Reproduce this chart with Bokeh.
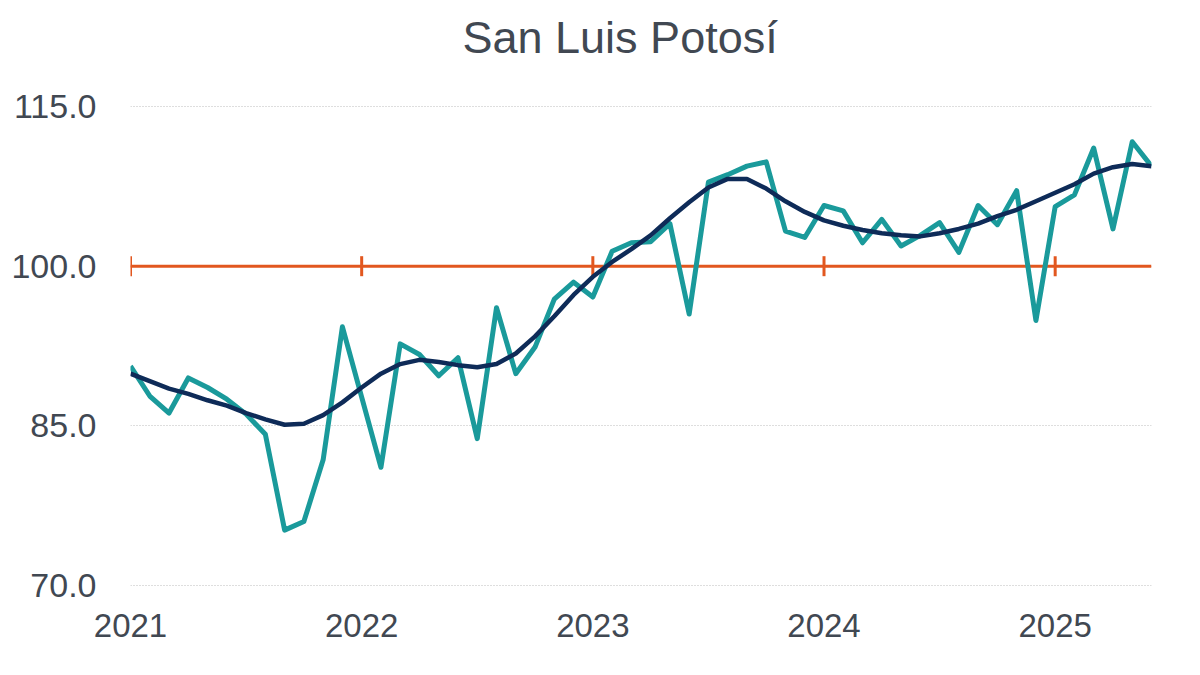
import math
from bokeh.plotting import figure
from bokeh.models import Range1d, FixedTicker, Span, Title
from bokeh.embed import file_html
from bokeh.resources import INLINE

title_text = "San Luis Potosí"
month_index = list(range(54))  # Jan 2021 .. Jun 2025
year_ticks = [0, 12, 24, 36, 48]
year_labels = ["2021", "2022", "2023", "2024", "2025"]
y_ticks = [70, 85, 100, 115]
y_labels = ["70.0", "85.0", "100.0", "115.0"]
baseline = 100

observed = [90.6, 87.8, 86.2, 89.5, 88.6, 87.5, 86.1, 84.2, 75.2, 76.0,
            81.8, 94.3, 87.7, 81.1, 92.7, 91.7, 89.7, 91.4, 83.8, 96.1,
            89.9, 92.4, 96.9, 98.5, 97.1, 101.4, 102.2, 102.3, 104.0, 95.5,
            107.9, 108.6, 109.4, 109.8, 103.3, 102.7, 105.7, 105.2, 102.2, 104.4,
            101.9, 102.9, 104.1, 101.3, 105.7, 103.9, 107.1, 94.9, 105.6, 106.7,
            111.1, 103.5, 111.7, 109.4]

trend = [89.9, 89.2, 88.5, 88.0, 87.4, 86.9, 86.2, 85.6, 85.1, 85.2,
         86.0, 87.2, 88.6, 89.9, 90.8, 91.2, 91.0, 90.7, 90.5, 90.8,
         91.8, 93.4, 95.3, 97.3, 99.0, 100.4, 101.6, 102.9, 104.5, 106.0,
         107.4, 108.2, 108.2, 107.3, 106.1, 105.1, 104.3, 103.8, 103.4, 103.1,
         102.9, 102.8, 103.1, 103.5, 104.0, 104.7, 105.3, 106.1, 106.9, 107.7,
         108.7, 109.3, 109.6, 109.4]

TEAL = "#1A9A9B"
NAVY = "#0E2B58"
ORANGE = "#E2571F"
TEXT = "#414852"
FONT = "Liberation Sans"

p = figure(width=1200, height=675, output_backend="svg", toolbar_location=None,
           x_range=Range1d(0, 53), y_range=Range1d(69.9, 115.1),
           min_border_left=130, min_border_right=49,
           min_border_top=105, min_border_bottom=89)

xaxis = p.below[0]
yaxis = p.left[0]

# title, with bottom padding creating the gap above the plot frame
title = Title(text=title_text, text_font=FONT, text_font_size="45px",
              text_font_style="normal", text_color=TEXT,
              align="left", offset=332, standoff=10,
              padding=dict(left=0, right=0, top=0, bottom=38))
p.add_layout(title, "above")

p.outline_line_color = None
p.background_fill_color = "white"
p.border_fill_color = "white"

# axes
xaxis.ticker = FixedTicker(ticks=year_ticks)
xaxis.major_label_overrides = {t: l for t, l in zip(year_ticks, year_labels)}
yaxis.ticker = FixedTicker(ticks=y_ticks)
yaxis.major_label_overrides = {t: l for t, l in zip(y_ticks, y_labels)}
for ax in (xaxis, yaxis):
    ax.axis_line_color = None
    ax.major_tick_line_color = None
    ax.minor_tick_line_color = None
    ax.major_label_text_font = FONT
    ax.major_label_text_color = TEXT
xaxis.major_label_text_font_size = "33px"
yaxis.major_label_text_font_size = "34px"
xaxis.major_label_standoff = 21
yaxis.major_label_standoff = 28

p.xgrid.grid_line_color = None
p.ygrid.ticker = FixedTicker(ticks=y_ticks)
p.ygrid.grid_line_color = "#BDBDBD"
p.ygrid.grid_line_dash = "1 2"
p.ygrid.grid_line_width = 1

# baseline at 100 with year tick marks
span = Span(location=baseline, dimension="width", line_color=ORANGE,
            line_width=3, level="underlay")
p.add_layout(span)
p.scatter(x=year_ticks, y=[baseline] * len(year_ticks), marker="dash",
          size=20, angle=math.pi / 2, line_color=ORANGE, line_width=3)

p.line(month_index, observed, line_color=TEAL, line_width=5, line_join="round")
p.line(month_index, trend, line_color=NAVY, line_width=4.5, line_join="round")

open("out.html", "w").write(file_html(p, INLINE))
